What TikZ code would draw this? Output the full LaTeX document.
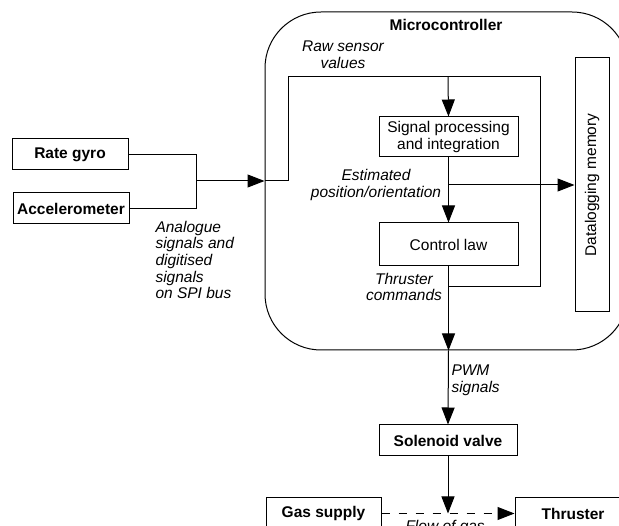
\documentclass[tikz,border=0pt]{standalone}
\usepackage{fontspec}
\setmainfont{Liberation Sans}
\usetikzlibrary{arrows.meta}

\tikzset{
    box/.style={draw, line width=1pt, inner sep=2pt, minimum height=31pt,
        align=center, font=\fontsize{15.5}{16.6}\selectfont},
    bbox/.style={box, font=\fontsize{15.5}{16.6}\selectfont\bfseries},
    note/.style={inner sep=0pt, align=left, font=\fontsize{15.5}{16.6}\selectfont\itshape},
    arr/.style={-{Triangle[length=17pt,width=13pt]}},
}

\begin{document}
\begin{tikzpicture}[x=1pt, y=-1pt, line width=1pt]
        \path[use as bounding box] (0,0) rectangle (619,526);
        \clip (0,0) rectangle (619,526);

        % microcontroller outline
        \node[draw, rounded corners=56pt, minimum width=363pt, minimum height=338pt] (mcu) at (446.5,181) {};
        \node[font=\fontsize{15.5}{16.6}\selectfont\bfseries] (mcutitle) at (446,25) {Microcontroller};

        \node[bbox, minimum width=116pt] (gyro) at (70,154.5) {Rate gyro};
        \node[bbox, minimum width=116pt] (accel) at (71,208.5) {Accelerometer};
        \node[box, minimum width=139pt, minimum height=40pt] (proc) at (448.5,137) {Signal processing\\and integration};
        \node[box, minimum width=139pt, minimum height=43pt] (ctrl) at (448.5,244.5) {Control law};
        \node[box, minimum width=34pt, minimum height=254pt] (mem) at (592,185) {\rotatebox{90}{Datalogging memory}};
        \node[bbox, minimum width=138pt] (valve) at (448,440.5) {Solenoid valve};
        \node[bbox, minimum width=115pt] (gas) at (323.5,513.5) {Gas supply};
        \node[bbox, minimum width=116pt] (thr) at (573,513.5) {Thruster};

        \coordinate (join) at (196,181);
        \coordinate (rawL) at (288,77);
        \coordinate (rawM) at (448,77);
        \coordinate (rawR) at (540,77);
        \coordinate (cmdj) at (448,287);
        \coordinate (estj) at (448,185);

        % sensors into the microcontroller
        \draw (gyro.east) -| (join);
        \draw (accel.east) -| (join);
        \draw[arr] (join) -- (mcu.west);
        \draw (mcu.west) -| (rawL) -- (rawR) |- (cmdj); % raw sensor values
        \draw[arr] (rawM) -- (proc.north);
        \draw[arr] (proc.south) -- (ctrl.north);
        \draw[arr] (estj) -- (mem.west |- estj);
        \draw[arr] (ctrl.south) -- (ctrl.south |- mcu.south);
        \draw[arr] (ctrl.south |- mcu.south) -- (valve.north); % PWM
        \draw[arr, dash pattern=on 8pt off 9pt] (gas.east) -- (thr.west); % gas
        \draw[arr] (valve.south) -- (valve.south |- gas.east);

        \node[note, align=center] (rawtxt) at (343,55) {Raw sensor\\values};
        \node[note, align=center] (esttxt) at (376,185) {Estimated\\position/orientation};
        \node[note, align=center] (cmdtxt) at (404,287) {Thruster\\commands};
        \node[note, anchor=west] (spitxt) at (155,260) {Analogue\\signals and\\digitised\\signals\\on SPI bus};
        \node[note, anchor=west] (pwmtxt) at (451,380.5) {PWM\\signals};
        \node[note, anchor=west] (flowtxt) at (405,527) {Flow of gas};
\end{tikzpicture}
\end{document}
